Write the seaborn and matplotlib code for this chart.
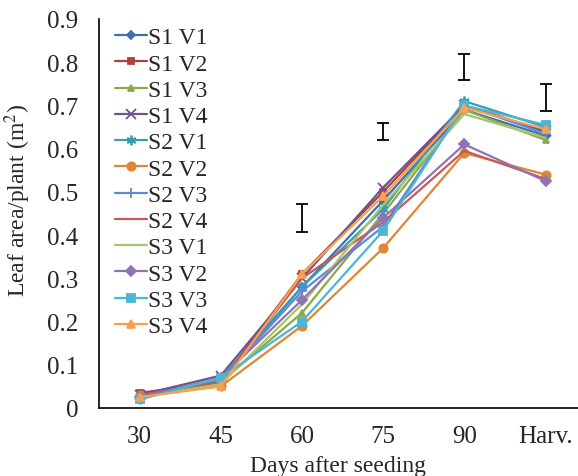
import numpy as np
import pandas as pd
import matplotlib
matplotlib.use("Agg")
import matplotlib.pyplot as plt
import seaborn as sns

days = ["30", "45", "60", "75", "90", "Harv."]
series = ["S1 V1", "S1 V2", "S1 V3", "S1 V4", "S2 V1", "S2 V2",
          "S2 V3", "S2 V4", "S3 V1", "S3 V2", "S3 V3", "S3 V4"]

s1v1 = [0.025, 0.065, 0.28, 0.48, 0.69, 0.630]
s1v2 = [0.035, 0.060, 0.31, 0.50, 0.70, 0.640]
s1v3 = [0.025, 0.060, 0.22, 0.45, 0.69, 0.620]
s1v4 = [0.030, 0.075, 0.30, 0.51, 0.70, 0.640]
s2v1 = [0.020, 0.070, 0.28, 0.46, 0.71, 0.650]
s2v2 = [0.030, 0.050, 0.19, 0.37, 0.59, 0.540]
s2v3 = [0.025, 0.065, 0.27, 0.42, 0.70, 0.635]
s2v4 = [0.030, 0.060, 0.30, 0.43, 0.595, 0.530]
s3v1 = [0.025, 0.055, 0.24, 0.47, 0.68, 0.625]
s3v2 = [0.025, 0.070, 0.25, 0.44, 0.61, 0.525]
s3v3 = [0.020, 0.070, 0.20, 0.41, 0.70, 0.655]
s3v4 = [0.025, 0.050, 0.31, 0.49, 0.695, 0.645]
values = [s1v1, s1v2, s1v3, s1v4, s2v1, s2v2, s2v3, s2v4, s3v1, s3v2, s3v3, s3v4]

# LSD bars
err_pos = [2, 3, 4, 5]
err_mid = [0.44, 0.64, 0.788, 0.718]
err_half = [0.033, 0.02, 0.03, 0.032]

colors = ["#3F6FAF", "#B0403D", "#8AAA48", "#6F5390", "#3A9BB5", "#E08535",
          "#5B8BD0", "#C65A57", "#A5C56B", "#8F73B3", "#4BB5D3", "#F8A050"]
markers = ["D", "s", "^", "x", (6, 2, 0), "o", "+", "", "", "D", "s", "^"]
msizes = [4, 5, 5, 7, 7, 6, 7, 0, 0, 5, 6, 6]

df = pd.DataFrame({
    "pos": np.tile(np.arange(len(days)), len(series)),
    "value": np.concatenate(values),
    "series": np.repeat(series, len(days)),
})

sns.set_style("white")
plt.rcParams["font.family"] = ["Liberation Serif", "DejaVu Serif"]
plt.rcParams["mathtext.fontset"] = "stix"

fig = plt.figure(figsize=(5.78, 4.77), dpi=100)
ax = fig.add_axes([99 / 578, 1 - 409 / 477, 479 / 578, 389 / 477])

for i, name in enumerate(series):
    sub = df[df["series"] == name]
    sns.lineplot(data=sub, x="pos", y="value", ax=ax, color=colors[i],
                 marker=markers[i] if markers[i] else None,
                 markersize=msizes[i], markeredgecolor=colors[i],
                 markeredgewidth=1.3, linewidth=1.6, label=name)

ax.errorbar(err_pos, err_mid, yerr=err_half, fmt="none", ecolor="black",
            elinewidth=1.3, capsize=4, capthick=1.3)

ax.set_xlim(-0.5, 5.4)
ax.set_ylim(0, 0.9)
ax.set_yticks(np.arange(0, 0.91, 0.1))
ax.set_yticklabels(["0"] + [f"{v:.1f}" for v in np.arange(0.1, 0.91, 0.1)])
ax.set_xticks(np.arange(-0.5, 5.0, 1.0))
ax.set_xticklabels([])
ax.set_xticks(np.arange(len(days)), minor=True)
ax.set_xticklabels(days, minor=True)
ax.tick_params(axis="x", which="major", direction="out", length=5, width=1)
ax.tick_params(axis="x", which="minor", length=0, labelsize=18, pad=12)
ax.tick_params(axis="y", direction="out", length=6, width=1, labelsize=18, pad=9)

for s in ["top", "right"]:
    ax.spines[s].set_visible(False)
for s in ["left", "bottom"]:
    ax.spines[s].set_color("black")
    ax.spines[s].set_linewidth(1.2)

ax.set_xlabel("Days after seeding", fontsize=17, labelpad=6)
ax.set_ylabel("Leaf area/plant (m$^2$)", fontsize=17)
ax.yaxis.set_label_coords(-0.138, 0.537)

ax.legend(loc="upper left", bbox_to_anchor=(0.033, 0.98), frameon=False,
          fontsize=17, handlelength=1.35, handletextpad=0.05, labelspacing=0.2,
          borderaxespad=0, borderpad=0)

fig.savefig("out.png", dpi=100)
